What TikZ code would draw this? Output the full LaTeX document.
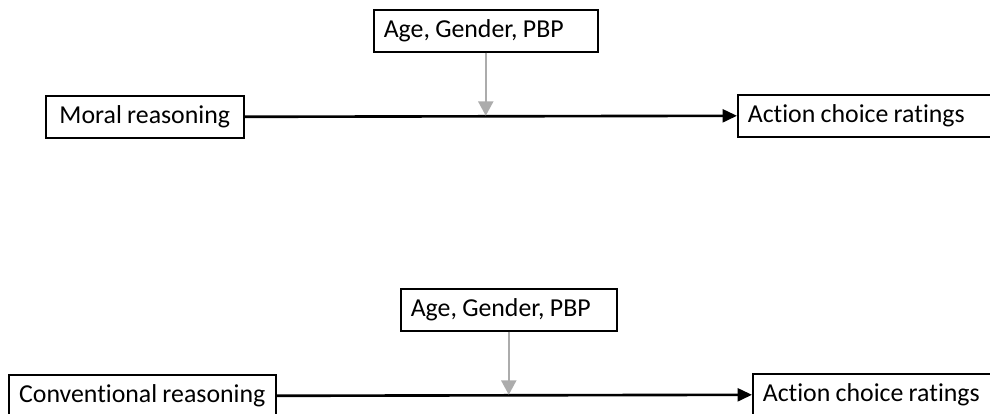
\documentclass[tikz,border=0pt]{standalone}
\usepackage{fontspec}
\setmainfont{Carlito}[Ligatures=NoCommon, WordSpace=0.9]
\usetikzlibrary{arrows.meta}
\begin{document}
\begin{tikzpicture}[x=0.02cm,y=-0.02cm,
  box/.style={draw, line width=0.9pt, anchor=north west, minimum height=0.84cm,
    inner xsep=0.2cm, align=flush left, font=\fontsize{14.7}{17}\selectfont},
  mainarrow/.style={line width=1.5pt, -{Triangle[length=0.29cm, width=0.26cm]}},
  modarrow/.style={line width=1.4pt, gray!65, -{Triangle[length=0.29cm, width=0.3cm]}}]
  \clip (0,0) rectangle (990,413);

  % first model
  \node[box, minimum width=3.96cm] (moral) at (45,95) {Moral reasoning};
  \node[box, text width=4.08cm] (age1) at (373,9) {Age, Gender, PBP};
  \node[box, text width=5cm] (act1) at (737,94) {Action choice ratings};
  \draw[mainarrow] (moral.east) -- (act1.west);
  \coordinate (hit1) at (age1.south |- act1.west);
  \draw[modarrow] (age1.south) -- (hit1);

  % second model
  \node[box, minimum width=5.34cm] (conv) at (8,374) {Conventional reasoning};
  \node[box, text width=3.92cm] (age2) at (400,288) {Age, Gender, PBP};
  \node[box, text width=5cm] (act2) at (752,373) {Action choice ratings};
  \draw[mainarrow] (conv.east) -- (act2.west);
  \coordinate (hit2) at (age2.south |- act2.west);
  \draw[modarrow] (age2.south) -- (hit2);
\end{tikzpicture}
\end{document}
